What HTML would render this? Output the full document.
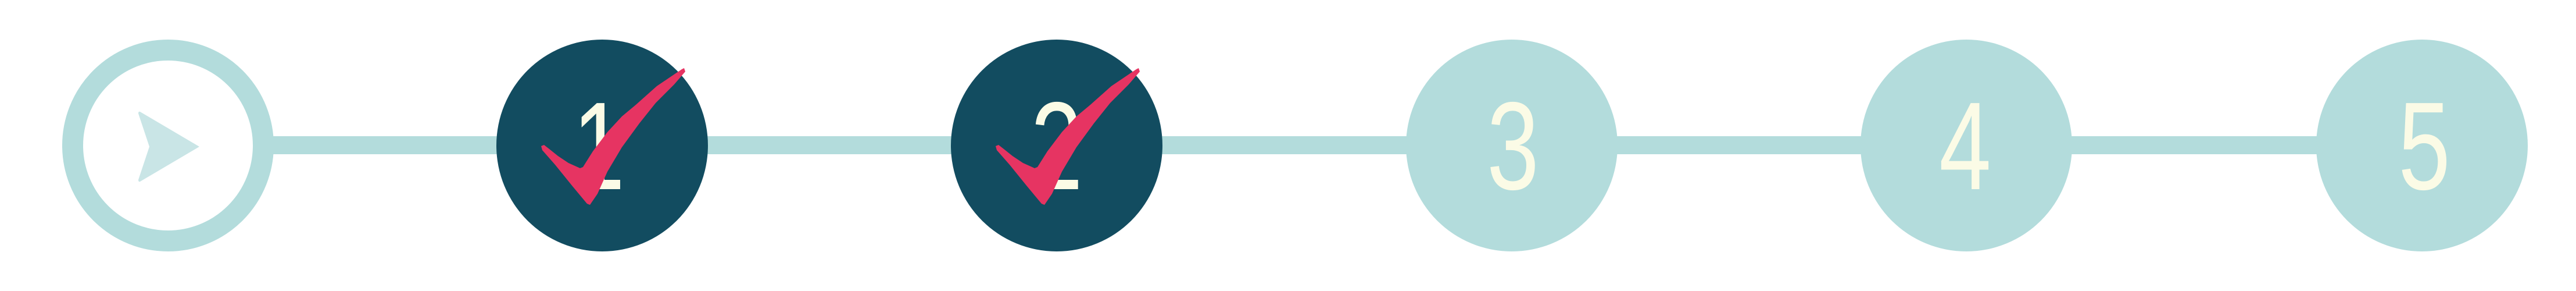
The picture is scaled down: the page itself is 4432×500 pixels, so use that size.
<!DOCTYPE html>
<html><head><meta charset="utf-8"><style>
html,body{margin:0;padding:0;background:#fff;}
svg{display:block}
</style></head><body>
<svg width="4432" height="500" viewBox="0 0 4432 500" xmlns="http://www.w3.org/2000/svg">
<rect x="289" y="234" width="3878" height="31" fill="#b3dcdc"/>
<circle cx="289" cy="250" r="164" fill="#fff" stroke="#b3dcdc" stroke-width="36"/>
<path d="M343 252 L241 192 Q238 191 238 195 L257 252 L238 309 Q238 313 241 312 Z" fill="#c9e5e6"/>
<circle cx="1036" cy="250" r="182" fill="#124c60"/>
<circle cx="1818" cy="250" r="182" fill="#124c60"/>
<circle cx="2601" cy="250" r="182" fill="#b3dcdc"/>
<circle cx="3383" cy="250" r="182" fill="#b3dcdc"/>
<circle cx="4167" cy="250" r="182" fill="#b3dcdc"/>
<g font-family="'Liberation Sans', sans-serif" font-size="215" fill="#fbfbe6" text-anchor="middle">
<text transform="translate(1030,325) scale(0.75,1)">1</text>
<text transform="translate(1818,325) scale(0.75,1)">2</text>
<text transform="translate(2603,325) scale(0.75,1)">3</text>
<text transform="translate(3381,325) scale(0.75,1)">4</text>
<text transform="translate(4171,325) scale(0.75,1)">5</text>
</g>
<g id="chk" fill="#e63462">
<path d="M931 251 L936 249 L945 256 L960 268 L978 280 L998 289 L1003 287 L1020 260 L1045 227 L1070 200 L1094 180 L1130 148 L1173 119 L1177 117 L1179 123 L1160 145 L1128 177 L1100 212 L1070 253 L1045 295 L1028 333 L1015 352 L1010 350 L985 320 L955 283 L933 258 Z"/>
</g>
<use href="#chk" transform="translate(782,0)"/>
</svg>
</body></html>
